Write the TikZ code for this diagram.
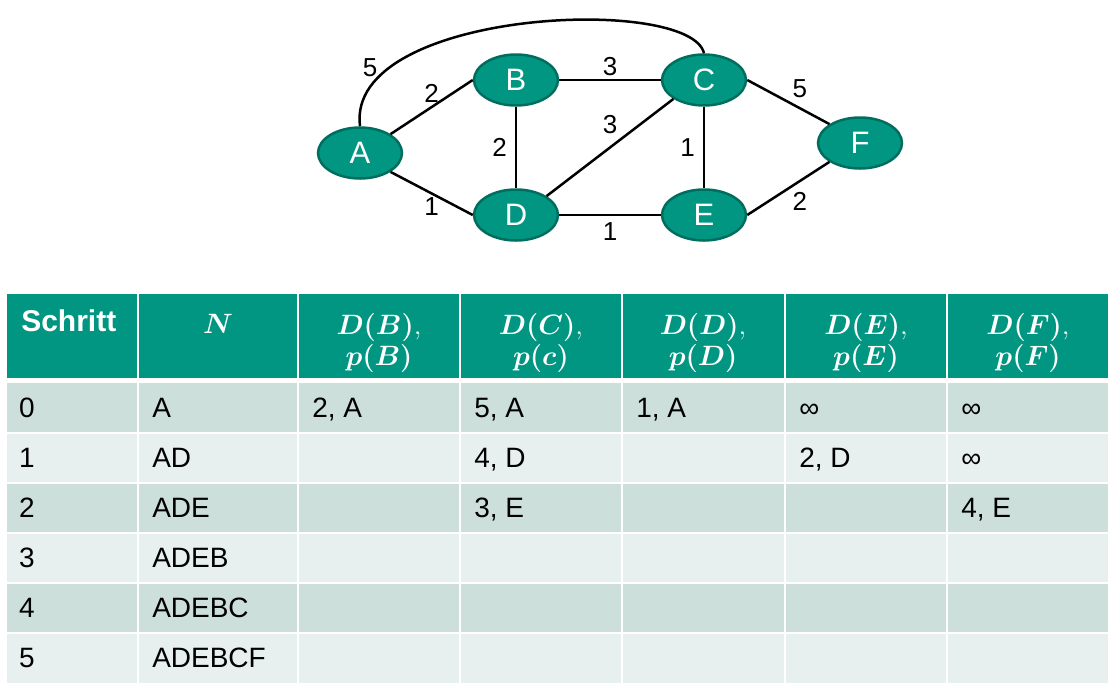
\RequirePackage{fix-cm}
\documentclass[tikz,border=0pt]{standalone}
\usepackage{amsmath}
\usepackage{bm}
\usepackage{fontspec}
\setmainfont{Liberation Sans}
\usepackage{tikz}
\usetikzlibrary{shapes.geometric}

\definecolor{kitgreen}{RGB}{0,150,130}
\definecolor{kitdark}{RGB}{0,110,95}
\definecolor{rowdark}{RGB}{204,223,219}
\definecolor{rowlight}{RGB}{231,240,238}

\tikzset{
    vertex/.style={ellipse, fill=kitgreen, draw=kitdark, line width=2.5pt, minimum width=84pt, minimum height=51pt, inner sep=0pt, text=white, font=\fontsize{31}{36}\selectfont},
    weight/.style={font=\fontsize{26}{30}\selectfont, inner sep=3pt},
    cell/.style={anchor=base west, inner sep=0pt, font=\fontsize{28}{34}\selectfont},
    head/.style={anchor=north, align=center, inner sep=0pt, text=white, font=\fontsize{28}{31}\selectfont},
}

\begin{document}
\begin{tikzpicture}[x=1pt, y=-1pt, line width=2.5pt]
    \fill[white] (0,0) rectangle (1115,689);
    \useasboundingbox (0,0) rectangle (1115,689);

    \node[vertex] (A) at (360,153) {A};
    \node[vertex] (B) at (516,80) {B};
    \node[vertex] (C) at (704,80) {C};
    \node[vertex] (D) at (516,215) {D};
    \node[vertex] (E) at (704,215) {E};
    \node[vertex] (F) at (860,143) {F};

    \draw (A.north) .. controls +(-15,-117) and +(-14,-59) .. node[weight, pos=0.2, left=7pt] {5} (C.north);
    \draw (A.north east) -- node[weight, above] {2} (B.west);
    \draw (A.south east) -- node[weight, below] {1} (D.west);
    \draw (B.east) -- node[weight, above] {3} (C.west);
    \draw (B.south) -- node[weight, left=5pt] {2} (D.north);
    \draw (D.north east) -- node[weight, above=10pt] {3} (C.south west);
    \draw (C.south) -- node[weight, left=5pt] {1} (E.north);
    \draw (D.east) -- node[weight, below=3pt] {1} (E.west);
    \draw (C.east) -- node[weight, above right] {5} (F.north west);
    \draw (E.east) -- node[weight, below right] {2} (F.south west);

    % table
    \fill[kitgreen] (7,294) rectangle (1108,378);
    \foreach \r in {0,...,5} {
        \pgfmathsetmacro{\shade}{mod(\r,2)==0 ? 1 : 0}
        \ifdim\shade pt>0.5pt
            \fill[rowdark] (7,{383+50*\r}) rectangle (1108,{433+50*\r});
        \else
            \fill[rowlight] (7,{383+50*\r}) rectangle (1108,{433+50*\r});
        \fi
    }
    \foreach \y in {433,483,533,583,633}
        \draw[white] (7,\y) -- (1108,\y);
    \foreach \x in {138,298,460,622,785,947}
        \draw[white] (\x,294) -- (\x,683);

    \node[anchor=base west, inner sep=0pt, text=white, font=\fontsize{30}{34}\selectfont\bfseries] (hS) at (20,331) {Schritt};
    \node[anchor=base, inner sep=0pt, text=white, font=\fontsize{28}{31}\selectfont] (hN) at (218,333) {$\bm{N}$};
    \node[head] (hB) at (379,312) {$\bm{D(B)},$\\$\bm{p(B)}$};
    \node[head] (hC) at (541,312) {$\bm{D(C)},$\\$\bm{p(c)}$};
    \node[head] (hD) at (703,312) {$\bm{D(D)},$\\$\bm{p(D)}$};
    \node[head] (hE) at (866,312) {$\bm{D(E)},$\\$\bm{p(E)}$};
    \node[head] (hF) at (1028,312) {$\bm{D(F)},$\\$\bm{p(F)}$};

    \foreach \r/\set in {0/A,1/AD,2/ADE,3/ADEB,4/ADEBC,5/ADEBCF} {
        \node[cell] (s\r) at (18,{417+50*\r}) {\r};
        \node[cell] (n\r) at (151,{417+50*\r}) {\set};
    }
    \node[cell] (b0) at (311,417) {2, A};
    \node[cell] (c0) at (473,417) {5, A};
    \node[cell] (d0) at (635,417) {1, A};
    \node[cell] (e0) at (798,417) {∞};
    \node[cell] (f0) at (960,417) {∞};
    \node[cell] (c1) at (473,467) {4, D};
    \node[cell] (e1) at (798,467) {2, D};
    \node[cell] (f1) at (960,467) {∞};
    \node[cell] (c2) at (473,517) {3, E};
    \node[cell] (f2) at (960,517) {4, E};
\end{tikzpicture}
\end{document}
